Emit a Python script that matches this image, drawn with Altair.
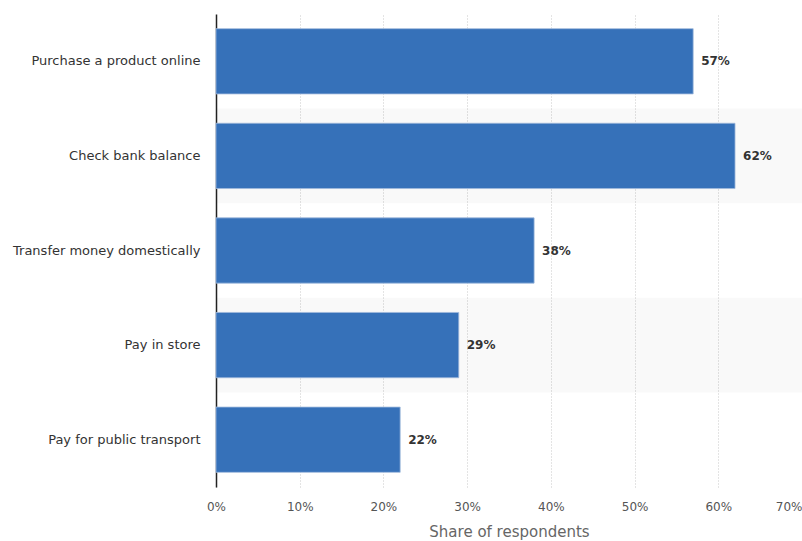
import altair as alt
import pandas as pd

categories = [
    "Purchase a product online",
    "Check bank balance",
    "Transfer money domestically",
    "Pay in store",
    "Pay for public transport",
]
values = [57, 62, 38, 29, 22]
x_ticks = [0, 10, 20, 30, 40, 50, 60, 70]

df = pd.DataFrame({"category": categories, "value": values})
df["stripe"] = [i % 2 for i in range(len(categories))]
df["label"] = [f"{v}%" for v in values]

W, H = 586, 473
FONT = "DejaVu Sans"

y_bands = alt.Y("category:N", sort=categories, axis=None,
                scale=alt.Scale(paddingInner=0, paddingOuter=0))

background = alt.Chart(df).mark_rect(color="#000000").encode(
    x=alt.value(0),
    x2=alt.value(W),
    y=y_bands,
    opacity=alt.Opacity("stripe:Q", scale=alt.Scale(domain=[0, 1], range=[0, 0.022]), legend=None),
)

x_enc = alt.X(
    "value:Q",
    scale=alt.Scale(domain=[0, 70], nice=False),
    axis=alt.Axis(
        values=x_ticks,
        labelExpr="datum.value + '%'",
        title="Share of respondents",
        domain=False,
        ticks=False,
        grid=True,
        gridColor="#c8c8c8",
        gridDash=[1, 2],
        gridWidth=1,
        gridOpacity={"condition": {"test": "datum.value >= 70", "value": 0}, "value": 1},
        labelFlush=False,
        labelAlign={"condition": {"test": "datum.value >= 70", "value": "right"}, "value": "center"},
        labelFont=FONT,
        labelFontSize=12,
        labelColor="#555555",
        labelPadding=14,
        titleFont=FONT,
        titleFontSize=15,
        titleFontWeight="normal",
        titleColor="#666666",
        titlePadding=12,
    ),
)

y_enc = alt.Y(
    "category:N",
    sort=categories,
    scale=alt.Scale(paddingInner=0.31, paddingOuter=0.155),
    axis=alt.Axis(
        title=None,
        ticks=False,
        domain=True,
        domainColor="#222222",
        domainWidth=1.5,
        labelFont=FONT,
        labelFontSize=13,
        labelColor="#333333",
        labelPadding=16,
        labelLimit=250,
    ),
)

bars = alt.Chart(df).mark_bar(color="#3671b9", stroke="#9fb9dc", strokeWidth=0.8).encode(
    x=x_enc,
    y=y_enc,
)

labels = alt.Chart(df).mark_text(
    align="left", baseline="middle", dx=8, font=FONT, fontSize=12,
    fontWeight="bold", color="#333333",
).encode(
    x="value:Q",
    y=alt.Y("category:N", sort=categories),
    text="label:N",
)

fg = alt.layer(bars, labels)

chart = alt.layer(background, fg).resolve_scale(y="independent").properties(
    width=W,
    height=H,
    autosize=alt.AutoSizeParams(type="none"),
    padding={"left": 216, "top": 14, "right": 0, "bottom": 54},
    background="white",
).configure_view(stroke=None)

chart.save("out.html", embed_options={"renderer": "svg", "actions": False})
